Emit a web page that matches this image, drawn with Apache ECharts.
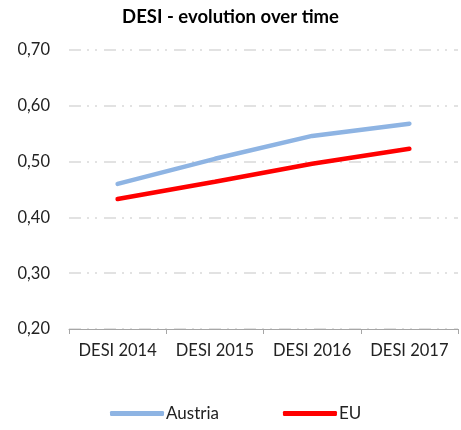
<!DOCTYPE html>
<html>
<head>
<meta charset="utf-8">
<script src="https://cdn.jsdelivr.net/npm/echarts@6/dist/echarts.min.js"></script>
<style>
  html, body { margin: 0; padding: 0; background: #fff; }
  #chart { width: 461px; height: 430px; }
</style>
</head>
<body>
<div id="chart"></div>
<script>
// data
var categories = ['DESI 2014', 'DESI 2015', 'DESI 2016', 'DESI 2017'];
var austria = [0.460, 0.505, 0.546, 0.568];
var eu = [0.433, 0.464, 0.496, 0.523];

var myChart = echarts.init(document.getElementById('chart'));
var font = 'Lato, "Open Sans", sans-serif';

var option = {
  animation: false,
  title: {
    text: 'DESI - evolution over time',
    left: 'center',
    top: 3,
    textStyle: { fontFamily: font, fontSize: 18.5, fontWeight: 'bold', color: '#000' }
  },
  legend: {
    bottom: 3,
    left: 105,
    itemWidth: 54,
    itemHeight: 5,
    itemGap: 64,
    icon: 'roundRect',
    textStyle: { fontFamily: font, fontSize: 17, color: '#222', padding: [0, 0, 0, -3] },
    data: ['Austria', 'EU']
  },
  grid: { left: 69, right: 3, top: 50, bottom: 101, containLabel: false },
  xAxis: {
    type: 'category',
    data: categories,
    boundaryGap: true,
    axisLine: { lineStyle: { color: '#a6a6a6', width: 1 } },
    axisTick: { show: true, length: 5, lineStyle: { color: '#a6a6a6' } },
    axisLabel: { fontFamily: font, fontSize: 16.5, color: '#222', margin: 13, interval: 0, hideOverlap: false }
  },
  yAxis: {
    type: 'value',
    min: 0.2,
    max: 0.7,
    interval: 0.1,
    axisLine: { show: false },
    axisTick: { show: false },
    axisLabel: {
      fontFamily: font, fontSize: 16.5, color: '#222', margin: 19,
      formatter: function (v) { return v.toFixed(2).replace('.', ','); }
    },
    splitLine: {
      lineStyle: { color: '#d9d9d9', width: 1.5, type: [12, 6, 2, 6, 2, 7] }
    }
  },
  series: [
    {
      name: 'Austria',
      type: 'line',
      data: austria,
      symbol: 'none',
      color: '#8eb4e3',
      lineStyle: { width: 4.5, color: '#8eb4e3', cap: 'round' }
    },
    {
      name: 'EU',
      type: 'line',
      data: eu,
      symbol: 'none',
      color: '#ff0000',
      lineStyle: { width: 4.5, color: '#ff0000', cap: 'round' }
    }
  ]
};

myChart.setOption(option);
</script>
</body>
</html>
